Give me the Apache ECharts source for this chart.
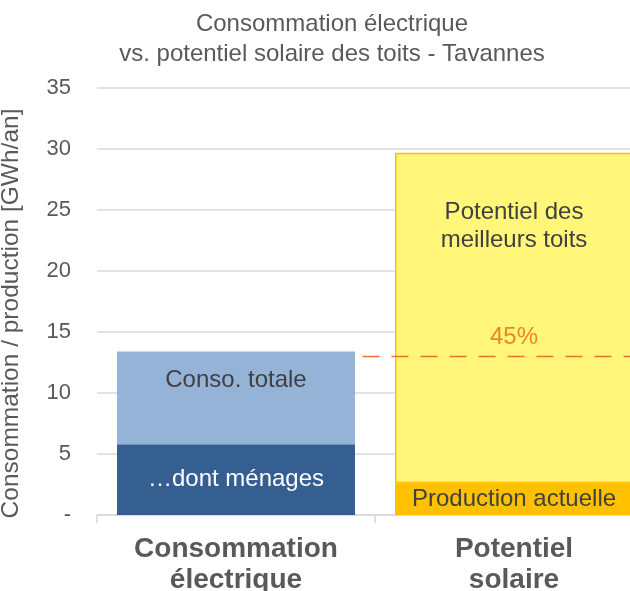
<!DOCTYPE html>
<html><head><meta charset="utf-8">
<script src="https://cdn.jsdelivr.net/npm/echarts@6/dist/echarts.min.js"></script>
<style>html,body{margin:0;padding:0;background:#fff}#c{width:630px;height:591px}</style>
</head><body><div id="c"></div>
<script>
const categories = ['Consommation\nélectrique', 'Potentiel\nsolaire'];
const baseValues = [5.8, 2.6];          // ménages / production actuelle
const topValues = [7.6, 27.1];          // reste conso totale / potentiel des meilleurs toits
const baseLabels = ['…dont ménages', 'Production actuelle'];
const topLabels = ['Conso. totale', 'Potentiel des\nmeilleurs toits'];
const yTicks = [0, 5, 10, 15, 20, 25, 30, 35];
const refLevel = 13.0;
const refLabel = '45%';
const refX = [0.955, 2];
const refLabelX = 1.5;

const FONT = 'Liberation Sans, Arial, sans-serif';
const chart = echarts.init(document.getElementById('c'), null, {renderer: 'canvas'});
chart.setOption({
  animation: false,
  title: {
    text: 'Consommation électrique\nvs. potentiel solaire des toits - Tavannes',
    left: 327, textAlign: 'center', top: 4,
    textStyle: {fontFamily: FONT, fontSize: 24, fontWeight: 'normal', color: '#595959', lineHeight: 30}
  },
  grid: {left: 97, top: 88, height: 427, width: 556, containLabel: false, outerBoundsMode: 'none'},
  xAxis: [{
    type: 'category', data: categories,
    axisLine: {lineStyle: {color: '#D9D9D9', width: 1.5}},
    axisTick: {show: true, length: 8, lineStyle: {color: '#D9D9D9', width: 1.5}},
    axisLabel: {fontFamily: FONT, fontSize: 28, fontWeight: 'bold', color: '#595959', lineHeight: 31, margin: 19}
  }, {
    type: 'value', min: 0, max: 2, show: false
  }],
  yAxis: {
    type: 'value', min: yTicks[0], max: yTicks[yTicks.length - 1], interval: 5,
    name: 'Consommation / production [GWh/an]', nameLocation: 'middle', nameGap: 73, nameRotate: 90,
    nameTextStyle: {fontFamily: FONT, fontSize: 24.5, color: '#595959', padding: [0, 24, 0, 0]},
    axisLine: {show: false}, axisTick: {show: false},
    axisLabel: {fontFamily: FONT, fontSize: 22, color: '#595959', margin: 26,
      formatter: v => v === 0 ? '-' : String(v)},
    splitLine: {lineStyle: {color: '#D9D9D9', width: 1.5}}
  },
  series: [{
    type: 'bar', stack: 's', barWidth: 238,
    data: baseValues.map((v, i) => ({
      value: v,
      itemStyle: {color: i === 0 ? '#365F91' : '#FFC000'},
      label: {show: true, position: 'inside', formatter: baseLabels[i],
        color: i === 0 ? '#FFFFFF' : '#404040', fontFamily: FONT, fontSize: 24}
    }))
  }, {
    type: 'bar', stack: 's', barWidth: 238,
    data: topValues.map((v, i) => ({
      value: v,
      itemStyle: i === 0 ? {color: '#95B3D7'} : {color: '#FFF67A', borderColor: '#FFC000', borderWidth: 1.5},
      label: {show: true, position: 'insideTop', distance: i === 0 ? 15 : 46, formatter: topLabels[i],
        color: '#404040', fontFamily: FONT, fontSize: 24, lineHeight: 28}
    }))
  }, {
    type: 'line', xAxisIndex: 1, symbol: 'none', silent: true,
    lineStyle: {color: '#E97132', width: 1.5, type: [17, 12]},
    data: refX.map(x => [x, refLevel])
  }, {
    type: 'scatter', xAxisIndex: 1, symbolSize: 1, silent: true,
    itemStyle: {color: 'rgba(0,0,0,0)'},
    labelLayout: {hideOverlap: false},
    label: {show: true, position: 'top', distance: 7, formatter: refLabel,
      color: '#E46C0A', fontFamily: FONT, fontSize: 24},
    data: [[refLabelX, refLevel]]
  }]
});
</script></body></html>
